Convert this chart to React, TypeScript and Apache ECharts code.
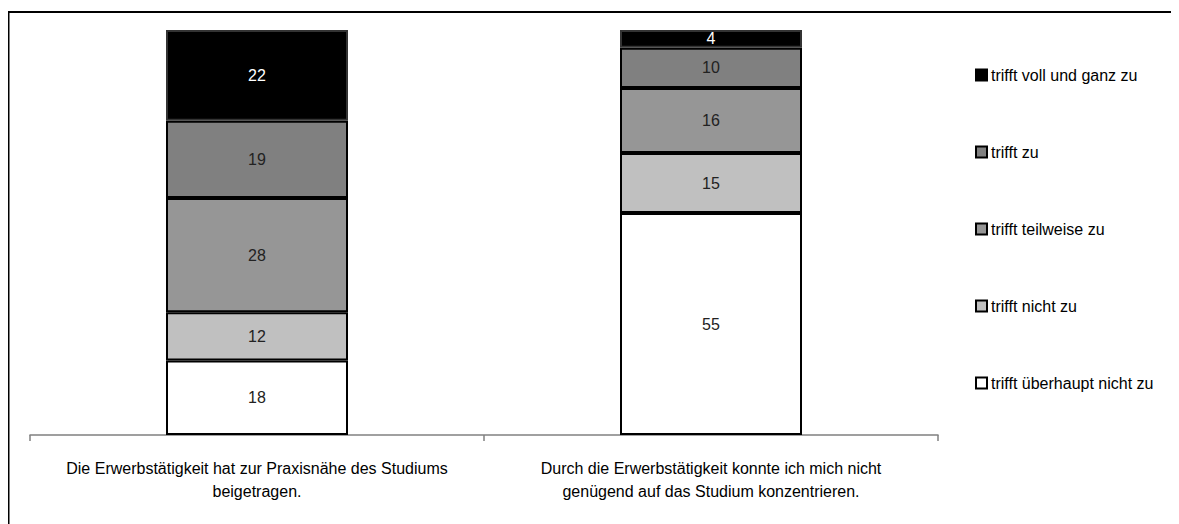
import React, { useEffect, useRef } from "react";
import * as echarts from "echarts";

const categories = [
  "Die Erwerbstätigkeit hat zur Praxisnähe des Studiums\nbeigetragen.",
  "Durch die Erwerbstätigkeit konnte ich mich nicht\ngenügend auf das Studium konzentrieren.",
];
const seriesNames = [
  "trifft überhaupt nicht zu",
  "trifft nicht zu",
  "trifft teilweise zu",
  "trifft zu",
  "trifft voll und ganz zu",
];
const ueberhauptNicht = [18.4, 54.8];
const nichtZu = [11.9, 14.8];
const teilweise = [28.2, 16.1];
const triffZu = [19.1, 9.9];
const vollUndGanz = [22.4, 4.4];
const seriesValues = [ueberhauptNicht, nichtZu, teilweise, triffZu, vollUndGanz];
const colors = ["#ffffff", "#c0c0c0", "#969696", "#808080", "#000000"];
const labelColors = ["#222", "#222", "#222", "#222", "#fff"];

const FONT = "Liberation Sans Narrow, Arial Narrow, Liberation Sans, sans-serif";

export default function App() {
  const ref = useRef<HTMLDivElement>(null);
  useEffect(() => {
    const chart = echarts.init(ref.current!, undefined, { renderer: "svg" });
    chart.setOption({
      animation: false,
      backgroundColor: "#fff",
      textStyle: { fontFamily: FONT },
      graphic: [
        {
          type: "rect",
          shape: { x: 0.5, y: 4, width: 1400, height: 800 },
          style: { fill: "none", stroke: "#000", lineWidth: 2 },
          silent: true,
        },
      ],
      grid: { left: 22, right: 241, top: 22, bottom: 89 },
      legend: {
        orient: "vertical",
        left: 962,
        top: 54,
        itemGap: 61,
        itemWidth: 11,
        itemHeight: 11,
        icon: "rect",
        data: [...seriesNames].reverse(),
        textStyle: { fontFamily: FONT, fontSize: 16, color: "#000", padding: [0, 0, 0, -1] },
        itemStyle: { borderColor: "#000", borderWidth: 2 },
      },
      xAxis: {
        type: "category",
        data: categories,
        axisLine: { lineStyle: { color: "#808080", width: 1.5 } },
        axisTick: { show: true, length: 6, lineStyle: { color: "#808080", width: 1.5 } },
        axisLabel: {
          fontFamily: FONT,
          fontSize: 16,
          color: "#000",
          lineHeight: 23,
          margin: 22,
          interval: 0,
        },
      },
      yAxis: {
        type: "value",
        min: 0,
        max: 100,
        show: false,
        splitLine: { show: false },
      },
      series: seriesNames.map((name, i) => ({
        name,
        type: "bar",
        stack: "total",
        barWidth: 182,
        data: seriesValues[i],
        itemStyle: {
          color: colors[i],
          borderColor: i === 4 ? "#333" : "#000",
          borderWidth: 2,
        },
        label: {
          show: true,
          position: "inside",
          fontFamily: FONT,
          fontSize: 16,
          color: labelColors[i],
          formatter: (p: any) => String(Math.round(p.value)),
        },
      })),
    });
    return () => chart.dispose();
  }, []);
  return <div ref={ref} style={{ width: 1171, height: 516 }} />;
}
